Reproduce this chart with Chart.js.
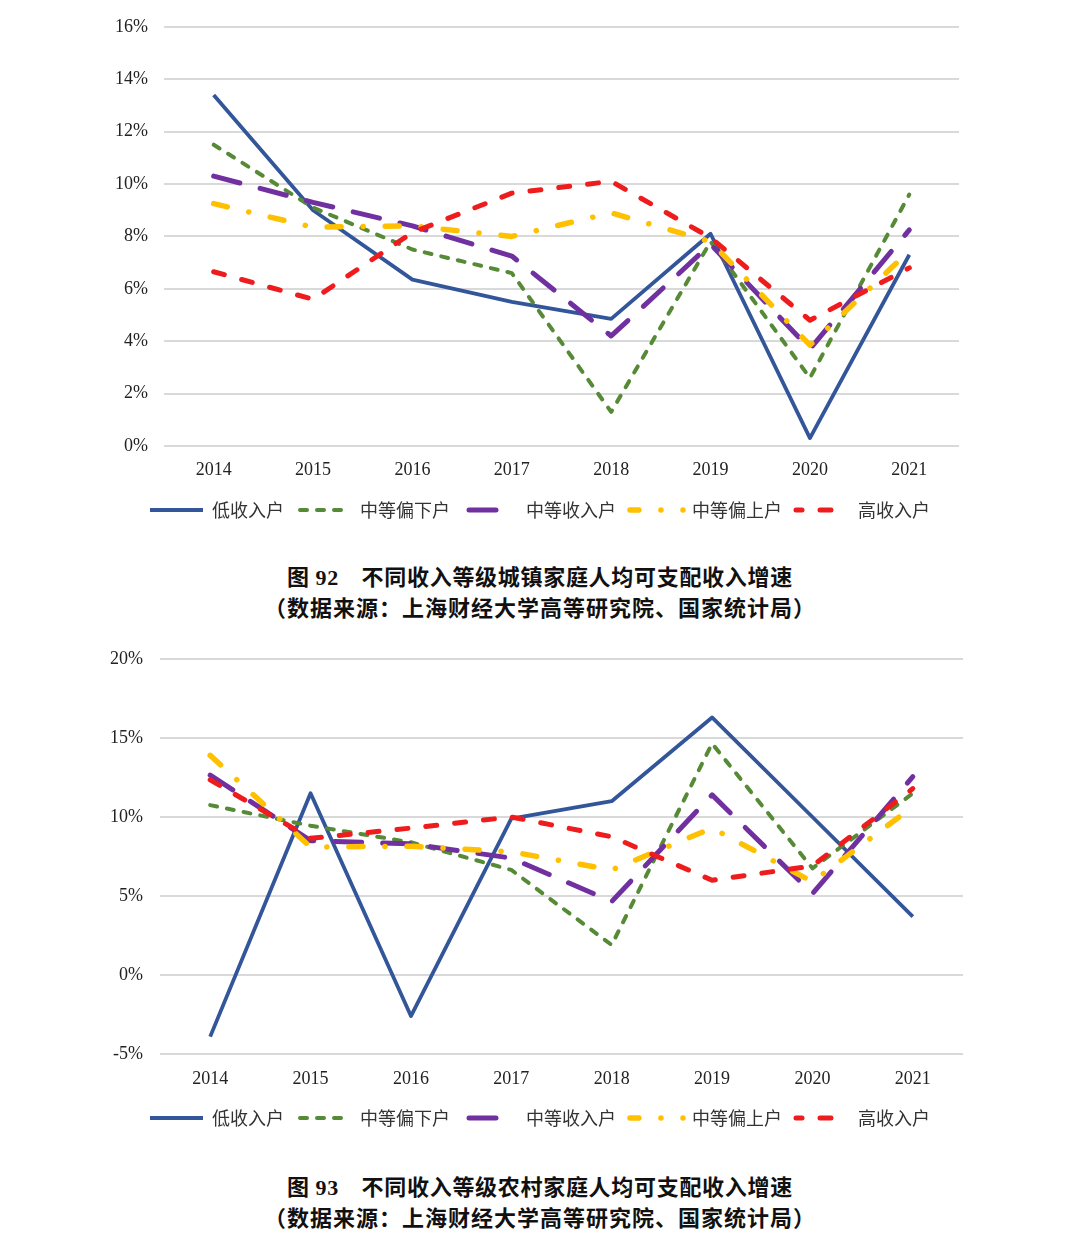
<!DOCTYPE html>
<html>
<head>
<meta charset="utf-8">
<script src="https://cdn.jsdelivr.net/npm/chart.js@4.4.1/dist/chart.umd.min.js"></script>
<style>
    body { margin: 0; background: #fff; }
    .page { position: relative; width: 1080px; height: 1242px; background: #fff; }
    .box { position: absolute; left: 0; width: 1080px; }
    .caption {
        position: absolute; left: 0; width: 1080px; text-align: center;
        font-family: "Noto Sans CJK SC", sans-serif;
        font-weight: bold; font-size: 22px; line-height: 29px; color: #111;
    }
    .caption .num { font-family: "Liberation Serif", serif; }
    .caption .l1 { letter-spacing: 0.7px; }
    .caption .l2 { letter-spacing: 1px; }
</style>
</head>
<body>
<div class="page">
    <div class="box" style="top:0;height:540px"><canvas id="urbanChart" width="1080" height="540"></canvas></div>
    <div class="caption" style="top:561px"><span class="l1">图 <span class="num">92</span>　不同收入等级城镇家庭人均可支配收入增速</span><br><span class="l2">（数据来源：上海财经大学高等研究院、国家统计局）</span></div>
    <div class="box" style="top:630px;height:520px"><canvas id="ruralChart" width="1080" height="520"></canvas></div>
    <div class="caption" style="top:1171px;line-height:28px"><span class="l1">图 <span class="num">93</span>　不同收入等级农村家庭人均可支配收入增速</span><br><span class="l2">（数据来源：上海财经大学高等研究院、国家统计局）</span></div>
</div>
<script>
const years = ['2014', '2015', '2016', '2017', '2018', '2019', '2020', '2021'];
const seriesNames = ['低收入户', '中等偏下户', '中等收入户', '中等偏上户', '高收入户'];

// 城镇 (%)
const urbanLow      = [13.4, 9.0, 6.35, 5.5, 4.85, 8.1, 0.3, 7.3];
const urbanLowerMid = [11.5, 9.1, 7.5, 6.6, 1.3, 7.8, 2.6, 9.6];
const urbanMid      = [10.3, 9.3, 8.4, 7.25, 4.2, 7.7, 3.7, 8.25];
const urbanUpperMid = [9.25, 8.35, 8.4, 8.0, 8.9, 7.8, 3.85, 7.45];
const urbanHigh     = [6.65, 5.6, 8.15, 9.65, 10.1, 7.95, 4.8, 6.8];

// 农村 (%)
const ruralLow      = [-3.9, 11.5, -2.6, 9.9, 11.0, 16.3, 10.0, 3.7];
const ruralLowerMid = [10.75, 9.45, 8.4, 6.65, 1.9, 14.65, 6.75, 11.5];
const ruralMid      = [12.65, 8.5, 8.3, 7.4, 4.65, 11.4, 5.15, 12.55];
const ruralUpperMid = [13.9, 8.1, 8.15, 7.8, 6.65, 9.3, 5.9, 10.65];
const ruralHigh     = [12.35, 8.65, 9.3, 10.0, 8.75, 6.0, 6.9, 11.8];

const seriesStyles = [
    { color: '#33569a', width: 3.8, dash: [], cap: 'butt' },
    { color: '#578a37', width: 4, dash: [7, 10], cap: 'round' },
    { color: '#7030a0', width: 5, dash: [27, 21], cap: 'round' },
    { color: '#ffc000', width: 5.5, dash: [14, 22, 0.1, 22], cap: 'round' },
    { color: '#ee1c1c', width: 5, dash: [11, 18], cap: 'round' }
];

const tickFont = { family: '"Liberation Serif", "Times New Roman", serif', size: 18 };
const legendFont = { family: '"Noto Sans CJK SC", sans-serif', size: 18 };
const legendLineWidth = 53;

// legend lines keep the dataset dash, started from the left end
function legendLabels(chart) {
    const items = Chart.defaults.plugins.legend.labels.generateLabels(chart);
    return items.map(item => {
        const ds = chart.data.datasets[item.datasetIndex];
        const period = ds.borderDash.reduce((a, b) => a + b, 0);
        item.lineDash = ds.borderDash;
        item.lineCap = ds.borderCapStyle;
        item.lineWidth = ds.borderWidth;
        item.strokeStyle = ds.borderColor;
        item.lineDashOffset = period ? (period - (legendLineWidth % period)) % period : 0;
        return item;
    });
}

function makeChart(id, seriesData, yMin, yMax, yStep, box) {
    const datasets = seriesData.map((values, i) => ({
        label: seriesNames[i],
        data: values,
        borderColor: seriesStyles[i].color,
        backgroundColor: seriesStyles[i].color,
        borderWidth: seriesStyles[i].width,
        borderDash: seriesStyles[i].dash,
        borderCapStyle: seriesStyles[i].cap,
        borderJoinStyle: 'round',
        pointRadius: 0,
        pointHoverRadius: 0,
        tension: 0,
        fill: false,
        order: seriesData.length - i
    }));

    return new Chart(document.getElementById(id), {
        type: 'line',
        data: { labels: years, datasets },
        options: {
            responsive: false,
            animation: false,
            layout: { padding: box.padding },
            plugins: {
                legend: {
                    position: 'bottom',
                    labels: {
                        usePointStyle: true,
                        pointStyle: 'line',
                        pointStyleWidth: legendLineWidth,
                        boxHeight: 18,
                        padding: 14,
                        color: '#333',
                        font: legendFont,
                        generateLabels: legendLabels,
                        sort: (a, b) => a.datasetIndex - b.datasetIndex
                    }
                },
                tooltip: { enabled: false }
            },
            scales: {
                x: {
                    offset: true,
                    grid: { display: false },
                    border: { display: false },
                    ticks: { padding: box.xPad, color: '#222', font: tickFont },
                    afterFit: s => { s.height = 41; }
                },
                y: {
                    min: yMin,
                    max: yMax,
                    ticks: {
                        stepSize: yStep,
                        padding: box.yPad,
                        color: '#222',
                        font: tickFont,
                        callback: v => v + '%'
                    },
                    grid: { color: '#d9d9d9', lineWidth: 2, drawTicks: false },
                    border: { display: false },
                    afterFit: s => { s.width = box.yWidth; }
                },
                // empty right margin so the legend stays centred on the page
                spacer: {
                    type: 'linear',
                    position: 'right',
                    grid: { display: false },
                    border: { display: false },
                    ticks: { display: false },
                    afterFit: s => { s.width = box.rightWidth; }
                }
            }
        }
    });
}

makeChart('urbanChart',
    [urbanLow, urbanLowerMid, urbanMid, urbanUpperMid, urbanHigh],
    0, 16, 2,
    { padding: { top: 25, left: 0, right: 0, bottom: 11 }, yWidth: 164, rightWidth: 121, yPad: 16, xPad: 5 });

makeChart('ruralChart',
    [ruralLow, ruralLowerMid, ruralMid, ruralUpperMid, ruralHigh],
    -5, 20, 5,
    { padding: { top: 29, left: 0, right: 0, bottom: 13 }, yWidth: 160, rightWidth: 117, yPad: 17, xPad: 6 });
</script>
</body>
</html>
